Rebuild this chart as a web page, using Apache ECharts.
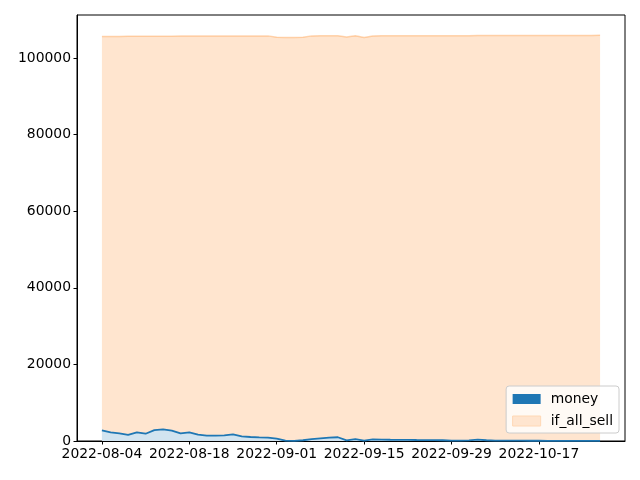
<!DOCTYPE html>
<html>
<head>
<meta charset="utf-8">
<script src="https://cdn.jsdelivr.net/npm/echarts@6/dist/echarts.min.js"></script>
<style>html,body{margin:0;padding:0;background:#fff}#c{width:640px;height:480px}</style>
</head>
<body>
<div id="c"></div>
<script>
var dates = ['2022-08-04','2022-08-05','2022-08-08','2022-08-09','2022-08-10','2022-08-11','2022-08-12','2022-08-15','2022-08-16','2022-08-17',
'2022-08-18','2022-08-19','2022-08-22','2022-08-23','2022-08-24','2022-08-25','2022-08-26','2022-08-29','2022-08-30','2022-08-31',
'2022-09-01','2022-09-02','2022-09-05','2022-09-06','2022-09-07','2022-09-08','2022-09-09','2022-09-12','2022-09-13','2022-09-14',
'2022-09-15','2022-09-16','2022-09-19','2022-09-20','2022-09-21','2022-09-22','2022-09-23','2022-09-26','2022-09-27','2022-09-28',
'2022-09-29','2022-09-30','2022-10-05','2022-10-06','2022-10-07','2022-10-10','2022-10-11','2022-10-12','2022-10-13','2022-10-14',
'2022-10-17','2022-10-18','2022-10-19','2022-10-20','2022-10-21','2022-10-24','2022-10-25','2022-10-26'];
var money = [2800,2250,2000,1600,2250,1900,2850,3050,2700,2000,
2250,1650,1400,1380,1480,1720,1220,1050,950,880,
620,100,50,200,500,700,900,980,150,500,
120,400,350,320,300,280,260,250,240,200,
120,100,150,350,200,100,100,80,80,60,
60,50,50,40,40,30,30,30];
var ifAllSell = [105600,105610,105620,105630,105640,105650,105660,105670,105680,105690,
105700,105700,105710,105720,105720,105730,105730,105740,105740,105750,
105400,105300,105320,105380,105750,105780,105780,105780,105450,105800,
105350,105700,105760,105770,105770,105780,105780,105790,105790,105800,
105800,105810,105810,105820,105820,105830,105830,105840,105840,105850,
105850,105860,105860,105870,105870,105880,105880,105890];
var xTickIdx = [0,10,20,30,40,50];
var yTicks = [0,20000,40000,60000,80000,100000];

var n = dates.length;
var pad = (n - 1) * 0.05;
function pairs(arr){ return arr.map(function(v,i){ return [i, v]; }); }

var chart = echarts.init(document.getElementById('c'));
var font = 'DejaVu Sans';
chart.setOption({
  animation: false,
  grid: {left: 77, right: 15, top: 15, bottom: 39, show: true, borderColor: '#000', borderWidth: 1, backgroundColor: 'transparent'},
  xAxis: {
    type: 'value', min: -pad, max: n - 1 + pad,
    axisLine: {show: true, onZero: false, lineStyle: {color: '#000'}},
    axisTick: {show: true, length: 3.5, lineStyle: {color: '#000'}, customValues: xTickIdx},
    axisLabel: {customValues: xTickIdx, color: '#000', fontFamily: font, fontSize: 13.9, margin: 6,
      formatter: function(v){ return dates[Math.round(v)]; }},
    splitLine: {show: false}
  },
  yAxis: {
    type: 'value', min: 0, max: 111200,
    axisLine: {show: true, onZero: false, lineStyle: {color: '#000'}},
    axisTick: {show: true, length: 3.5, lineStyle: {color: '#000'}, customValues: yTicks},
    axisLabel: {customValues: yTicks, color: '#000', fontFamily: font, fontSize: 13.9, margin: 6,
      formatter: function(v){ return String(v); }},
    splitLine: {show: false}
  },
  legend: {
    orient: 'vertical', right: 21, bottom: 47,
    backgroundColor: 'rgba(255,255,255,0.8)', borderColor: '#cccccc', borderWidth: 1, borderRadius: 3,
    padding: [6, 6, 5, 6], itemWidth: 28, itemHeight: 10, itemGap: 8,
    textStyle: {color: '#000', fontFamily: font, fontSize: 13.9, padding: [0, 0, 0, 5]},
    data: [
      {name: 'money', icon: 'rect', itemStyle: {color: '#1f77b4', borderWidth: 0}},
      {name: 'if_all_sell', icon: 'rect', itemStyle: {color: '#ffe5cf', borderColor: '#ffd8b5', borderWidth: 1}}
    ]
  },
  series: [
    {name: 'if_all_sell', type: 'line', data: pairs(ifAllSell), showSymbol: false, symbol: 'none', z: 1,
      lineStyle: {color: 'rgba(255,127,14,0.3)', width: 1.5},
      itemStyle: {color: '#ffe5cf'},
      areaStyle: {color: 'rgba(255,127,14,0.2)', opacity: 1}},
    {name: 'money', type: 'line', data: pairs(money), showSymbol: false, symbol: 'none', z: 3,
      lineStyle: {color: '#1f77b4', width: 1.8},
      itemStyle: {color: '#1f77b4'},
      areaStyle: {color: '#d2e4f0', opacity: 1}}
  ]
});
</script>
</body>
</html>
